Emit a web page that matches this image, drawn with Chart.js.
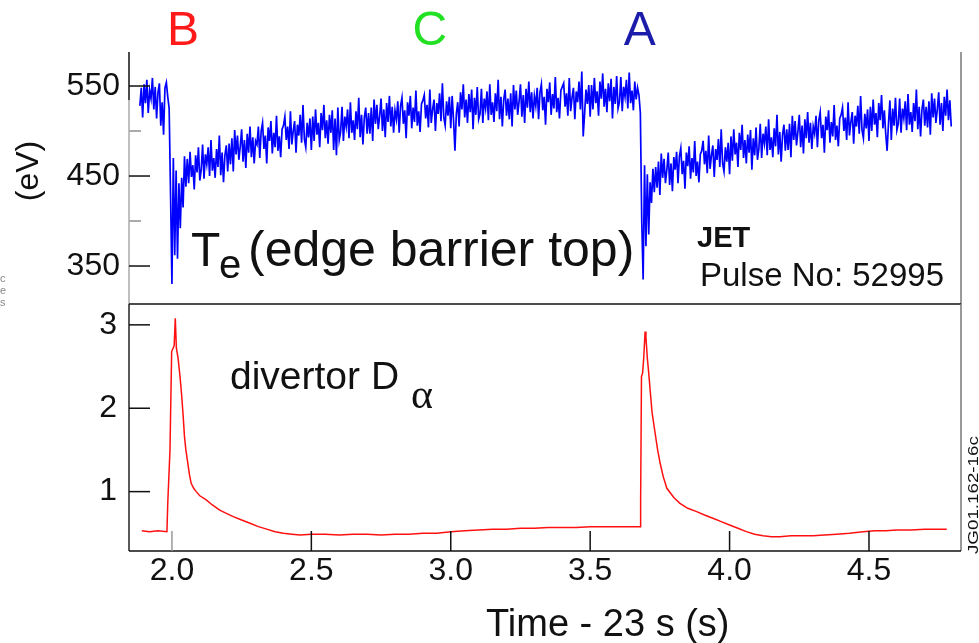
<!DOCTYPE html>
<html>
<head>
    <title>JET Pulse No: 52995</title>
    <script src="https://cdn.jsdelivr.net/npm/chart.js"></script>
    <style>
        body { margin: 0; background: #fff; }
        canvas { position: absolute; left: 0; top: 0; }
    </style>
</head>
<body>
    <canvas id="te-chart" width="979" height="643"></canvas>
    <canvas id="da-chart" width="979" height="643"></canvas>

    <script>
        // shared time axis (Time - 23 s)
        const timeMin = 1.846;
        const timeMax = 4.83;
        const timeTicks = [2.0, 2.5, 3.0, 3.5, 4.0, 4.5];

        // edge barrier top Te (eV), one sample every 5 ms from 1.885 s
        const teStart = 1.885;
        const teStep = 0.005;
        const teValues = [
            528, 548, 515, 552, 531, 557, 520, 545, 536, 559,
            524, 549, 514, 543, 553, 506, 532, 496, 548, 554,
            538, 525, 430, 330, 470, 362, 456, 358, 442, 392,
            448, 415, 472, 438,
            469, 442, 477, 449, 462, 435, 473, 454, 482, 445,
            457, 485, 447, 474, 463, 482, 450, 490, 456, 470, 448, 480, 460, 495, 451, 476, 443, 473, 484, 455,
            486, 463, 492, 455, 501, 474, 495, 468, 483, 502, 466, 490, 459, 497, 476, 505, 471, 493, 464, 489,
            485, 505, 470, 500, 509, 480, 495, 464, 504, 489, 511, 475, 498, 482, 517, 478, 494, 471, 502, 506,
            516, 490, 505, 480, 522, 485, 500, 511, 476, 507, 495, 518, 487, 529, 491, 482, 509, 493, 514, 479,
            516, 489, 524, 496, 509, 482, 520, 501, 529, 492, 512, 486, 518, 498, 523, 479, 514, 473, 526, 490,
            499, 527, 489, 516, 505, 524, 492, 532, 498, 512, 490, 522, 502, 537, 493, 518, 485, 515, 526, 497,
            520, 497, 526, 489, 535, 508, 529, 502, 517, 536, 500, 524, 493, 531, 510, 539, 505, 527, 498, 523,
            513, 533, 498, 528, 537, 508, 523, 492, 532, 517, 539, 503, 526, 510, 545, 506, 522, 499, 530, 534,
            540, 514, 529, 504, 546, 509, 524, 535, 500, 531, 519, 542, 511, 553, 515, 506, 533, 517, 538, 503,
            539, 512, 478, 519, 532, 505, 543, 524, 552, 515, 535, 509, 541, 521, 546, 502, 537, 518, 549, 513,
            519, 547, 509, 536, 525, 544, 512, 552, 518, 532, 510, 542, 522, 557, 513, 538, 505, 535, 546, 517,
            536, 513, 542, 505, 551, 524, 545, 518, 533, 552, 516, 540, 509, 547, 526, 555, 521, 543, 514, 539,
            528, 548, 513, 543, 552, 523, 538, 507, 547, 532, 554, 518, 541, 525, 560, 521, 537, 514, 545, 549,
            553, 527, 542, 517, 559, 522, 537, 548, 513, 544, 532, 555, 524, 566, 494, 519, 546, 530, 551, 516,
            551, 524, 559, 531, 544, 517, 555, 536, 564, 527, 547, 521, 553, 533, 558, 514, 549, 530, 561, 525,
            532, 560, 522, 549, 538, 557, 525, 565, 531, 545, 523, 555, 535, 548, 540,
            520, 400, 335, 462, 372, 452, 385, 443, 420, 458, 432,
            460, 437, 466, 429, 475, 448, 469, 442, 457, 476, 440, 464, 433, 471,
            457, 477, 442, 472, 481, 452, 467, 436, 476, 461, 483, 447, 470, 454, 489, 450, 466, 443, 474, 478,
            489, 463, 478, 453, 495, 458, 473, 484, 449, 480, 468, 491, 460, 502, 464, 455, 482, 466, 487, 452,
            494, 467, 502, 474, 487, 460, 498, 479, 507, 470, 490, 464, 496, 476, 501, 457, 492, 473, 504, 468,
            480, 508, 470, 497, 486, 505, 473, 513, 479, 493, 471, 503, 483, 518, 474, 499, 466, 496, 507, 478,
            502, 479, 508, 471, 517, 490, 511, 484, 499, 518, 482, 506, 475, 513, 492, 521, 487, 509, 480, 505,
            497, 517, 482, 512, 521, 492, 507, 476, 516, 501, 523, 487, 510, 494, 529, 490, 506, 483, 514, 518,
            526, 500, 515, 490, 532, 495, 510, 521, 486, 517, 505, 528, 497, 539, 501, 492, 519, 503, 524, 489,
            527, 500, 535, 507, 520, 493, 531, 512, 540, 503, 523, 497, 478, 509, 534, 490, 525, 506, 537, 501,
            508, 536, 498, 525, 514, 533, 501, 541, 507, 521, 499, 531, 511, 546, 502, 527, 494, 524, 535, 506,
            527, 504, 533, 496, 542, 515, 536, 509, 524, 543, 507, 531, 500, 538, 517, 546, 512, 534, 505
        ];
        const teTicks = [350, 450, 550];
        const teMinorTicks = [400, 500];

        // divertor D-alpha (a.u.)
        const daTime = [
            1.892, 1.92, 1.95, 1.982, 1.985, 1.993, 1.999, 2.004, 2.008, 2.012,
            2.016, 2.022, 2.029, 2.035, 2.04, 2.045, 2.05, 2.057, 2.063, 2.069,
            2.078, 2.087, 2.1, 2.123, 2.145, 2.17, 2.195, 2.22, 2.25, 2.28,
            2.31, 2.34, 2.37, 2.40, 2.43, 2.46, 2.5, 2.55, 2.6, 2.65,
            2.7, 2.75, 2.8, 2.85, 2.9, 2.95, 3.0, 3.05, 3.1, 3.15,
            3.2, 3.25, 3.3, 3.35, 3.4, 3.45, 3.5, 3.55, 3.6, 3.65,
            3.679, 3.681, 3.684, 3.688, 3.692, 3.697, 3.700, 3.705, 3.709, 3.715,
            3.722, 3.733, 3.742, 3.751, 3.762, 3.775, 3.8, 3.822, 3.85, 3.882,
            3.91, 3.94, 3.97, 4.0, 4.03, 4.06, 4.09, 4.12, 4.15, 4.18,
            4.22, 4.263, 4.3, 4.34, 4.384, 4.43, 4.479, 4.52, 4.56, 4.6,
            4.65, 4.7, 4.75, 4.779
        ];
        const daValues = [
            0.53, 0.52, 0.53, 0.52, 0.86, 1.50, 2.68, 2.72, 2.75, 3.08,
            2.72, 2.60, 2.38, 2.15, 1.92, 1.66, 1.50, 1.34, 1.20, 1.10,
            1.04, 1.00, 0.95, 0.90, 0.84, 0.78, 0.74, 0.70, 0.66, 0.62,
            0.58, 0.55, 0.52, 0.50, 0.49, 0.48, 0.49, 0.49, 0.48, 0.49,
            0.49, 0.48, 0.49, 0.49, 0.50, 0.50, 0.52, 0.53, 0.54, 0.55,
            0.55, 0.56, 0.56, 0.57, 0.57, 0.57, 0.58, 0.58, 0.58, 0.58,
            0.58, 0.90, 2.38, 2.42, 2.60, 2.92, 2.85, 2.60, 2.46, 2.22,
            1.95, 1.70, 1.50, 1.34, 1.18, 1.04, 0.93, 0.86, 0.80, 0.76,
            0.72, 0.68, 0.64, 0.60, 0.56, 0.52, 0.49, 0.47, 0.46, 0.46,
            0.47, 0.47, 0.47, 0.48, 0.49, 0.50, 0.52, 0.53, 0.53, 0.54,
            0.54, 0.55, 0.55, 0.55
        ];
        const daTicks = [1, 2, 3];

        // phase markers above the top panel
        const stateLabels = ['B', 'C', 'A'];
        const stateTimes = [2.04, 2.925, 3.678];
        const stateColors = ['#ff1a1a', '#22e022', '#1c1caa'];

        const FONT = '"Liberation Sans", Arial, Helvetica, sans-serif';
        Chart.defaults.font.family = FONT;
        Chart.defaults.color = '#111';

        function line(ctx, x1, y1, x2, y2) {
            ctx.beginPath();
            ctx.moveTo(x1, y1);
            ctx.lineTo(x2, y2);
            ctx.stroke();
        }

        const tePanel = {
            id: 'tePanel',
            afterDraw(chart) {
                const ctx = chart.ctx;
                const a = chart.chartArea;
                const x = chart.scales.x;
                const y = chart.scales.y;
                ctx.save();
                ctx.lineWidth = 1.5;
                ctx.strokeStyle = '#111';
                line(ctx, a.left, a.top, a.left, a.top + 48);
                ctx.strokeStyle = '#aaa';
                line(ctx, a.left, a.top + 48, a.left, a.bottom);
                ctx.strokeStyle = '#777';
                line(ctx, a.right, a.top, a.right, a.bottom);
                ctx.strokeStyle = '#111';
                line(ctx, a.left, a.bottom, a.right, a.bottom);
                teTicks.forEach(v => {
                    const p = y.getPixelForValue(v);
                    line(ctx, a.left, p, a.left + 21, p);
                });
                ctx.strokeStyle = '#aaa';
                ctx.lineWidth = 2;
                teMinorTicks.forEach(v => {
                    const p = y.getPixelForValue(v);
                    line(ctx, a.left, p, a.left + 12, p);
                });

                // B / C / A
                ctx.font = '48px ' + FONT;
                ctx.textAlign = 'center';
                ctx.textBaseline = 'alphabetic';
                stateLabels.forEach((s, i) => {
                    ctx.fillStyle = stateColors[i];
                    ctx.fillText(s, x.getPixelForValue(stateTimes[i]), 45);
                });

                ctx.fillStyle = '#111';
                // (eV)
                ctx.save();
                ctx.translate(29, 171);
                ctx.rotate(-Math.PI / 2);
                ctx.font = '32px ' + FONT;
                ctx.textBaseline = 'middle';
                ctx.fillText('(eV)', 0, 0);
                ctx.restore();

                // Te (edge barrier top)
                ctx.textAlign = 'left';
                ctx.font = '48px ' + FONT;
                ctx.fillText('T', 191, 266);
                ctx.font = '40px ' + FONT;
                ctx.fillText('e', 219, 278);
                ctx.font = '50px ' + FONT;
                ctx.fillText('(edge barrier top)', 248, 266);

                ctx.font = 'bold 29px ' + FONT;
                ctx.fillText('JET', 697, 247);
                ctx.font = '33px ' + FONT;
                ctx.fillText('Pulse No: 52995', 700, 286);

                // cropped margin text
                ctx.fillStyle = '#888';
                ctx.font = '11px ' + FONT;
                ctx.fillText('c', 0, 282);
                ctx.fillText('e', 0, 294);
                ctx.fillText('s', 0, 306);
                ctx.restore();
            }
        };

        const daPanel = {
            id: 'daPanel',
            afterDraw(chart) {
                const ctx = chart.ctx;
                const a = chart.chartArea;
                const x = chart.scales.x;
                const y = chart.scales.y;
                ctx.save();
                ctx.lineWidth = 1.5;
                ctx.strokeStyle = '#222';
                line(ctx, a.left, a.top, a.left, a.bottom);
                ctx.strokeStyle = '#777';
                line(ctx, a.right, a.top, a.right, a.bottom);
                ctx.strokeStyle = '#111';
                line(ctx, a.left, a.bottom, a.right, a.bottom);
                daTicks.forEach(v => {
                    const p = y.getPixelForValue(v);
                    line(ctx, a.left, p, a.left + 21, p);
                });
                timeTicks.forEach((t, i) => {
                    const p = x.getPixelForValue(t);
                    ctx.strokeStyle = i === 0 ? '#999' : '#111';
                    line(ctx, p, a.bottom, p, a.bottom - 20);
                });

                ctx.fillStyle = '#111';
                ctx.textAlign = 'left';
                ctx.textBaseline = 'alphabetic';
                ctx.font = '39px ' + FONT;
                ctx.fillText('divertor D', 230, 389);
                ctx.font = '42px "Liberation Serif", "DejaVu Serif", serif';
                ctx.fillText('\u03b1', 411, 408);

                ctx.font = '38px ' + FONT;
                ctx.fillText('Time - 23 s (s)', 486, 636);

                ctx.save();
                ctx.translate(978, 554);
                ctx.rotate(-Math.PI / 2);
                ctx.scale(1.25, 1);
                ctx.font = '15px ' + FONT;
                ctx.fillText('JG01.162-16c', 0, 0);
                ctx.restore();
                ctx.restore();
            }
        };

        const tePoints = teValues.map((v, i) => ({ x: teStart + i * teStep, y: v }));
        const daPoints = daValues.map((v, i) => ({ x: daTime[i], y: v }));

        new Chart(document.getElementById('te-chart').getContext('2d'), {
            type: 'line',
            data: {
                datasets: [{
                    label: 'Te (edge barrier top)',
                    data: tePoints,
                    borderColor: '#0000ff',
                    borderWidth: 1.7,
                    pointRadius: 0,
                    tension: 0
                }]
            },
            options: {
                responsive: false,
                animation: false,
                layout: { padding: { left: 0, right: 18, top: 52, bottom: 339 } },
                plugins: { legend: { display: false }, tooltip: { enabled: false } },
                scales: {
                    x: { type: 'linear', min: timeMin, max: timeMax, display: false },
                    y: {
                        min: 307.8,
                        max: 587.8,
                        afterFit: s => { s.width = 129; },
                        afterBuildTicks: s => { s.ticks = teTicks.map(v => ({ value: v })); },
                        grid: { display: false, drawTicks: false },
                        border: { display: false },
                        ticks: { padding: 9, font: { size: 32 }, color: '#111' }
                    }
                }
            },
            plugins: [tePanel]
        });

        new Chart(document.getElementById('da-chart').getContext('2d'), {
            type: 'line',
            data: {
                datasets: [{
                    label: 'divertor D alpha',
                    data: daPoints,
                    borderColor: '#ff1010',
                    borderWidth: 1.5,
                    pointRadius: 0,
                    tension: 0
                }]
            },
            options: {
                responsive: false,
                animation: false,
                layout: { padding: { left: 0, right: 18, top: 304, bottom: 0 } },
                plugins: { legend: { display: false }, tooltip: { enabled: false } },
                scales: {
                    x: {
                        type: 'linear',
                        min: timeMin,
                        max: timeMax,
                        afterFit: s => { s.height = 92; },
                        afterBuildTicks: s => { s.ticks = timeTicks.map(v => ({ value: v })); },
                        grid: { display: false, drawTicks: false },
                        border: { display: false },
                        ticks: { padding: 1, font: { size: 32 }, color: '#111', maxRotation: 0,
                                 callback: v => v.toFixed(1) }
                    },
                    y: {
                        min: 0.288,
                        max: 3.25,
                        afterFit: s => { s.width = 129; },
                        afterBuildTicks: s => { s.ticks = daTicks.map(v => ({ value: v })); },
                        grid: { display: false, drawTicks: false },
                        border: { display: false },
                        ticks: { padding: 12, font: { size: 32 }, color: '#111' }
                    }
                }
            },
            plugins: [daPanel]
        });
    </script>
</body>
</html>
